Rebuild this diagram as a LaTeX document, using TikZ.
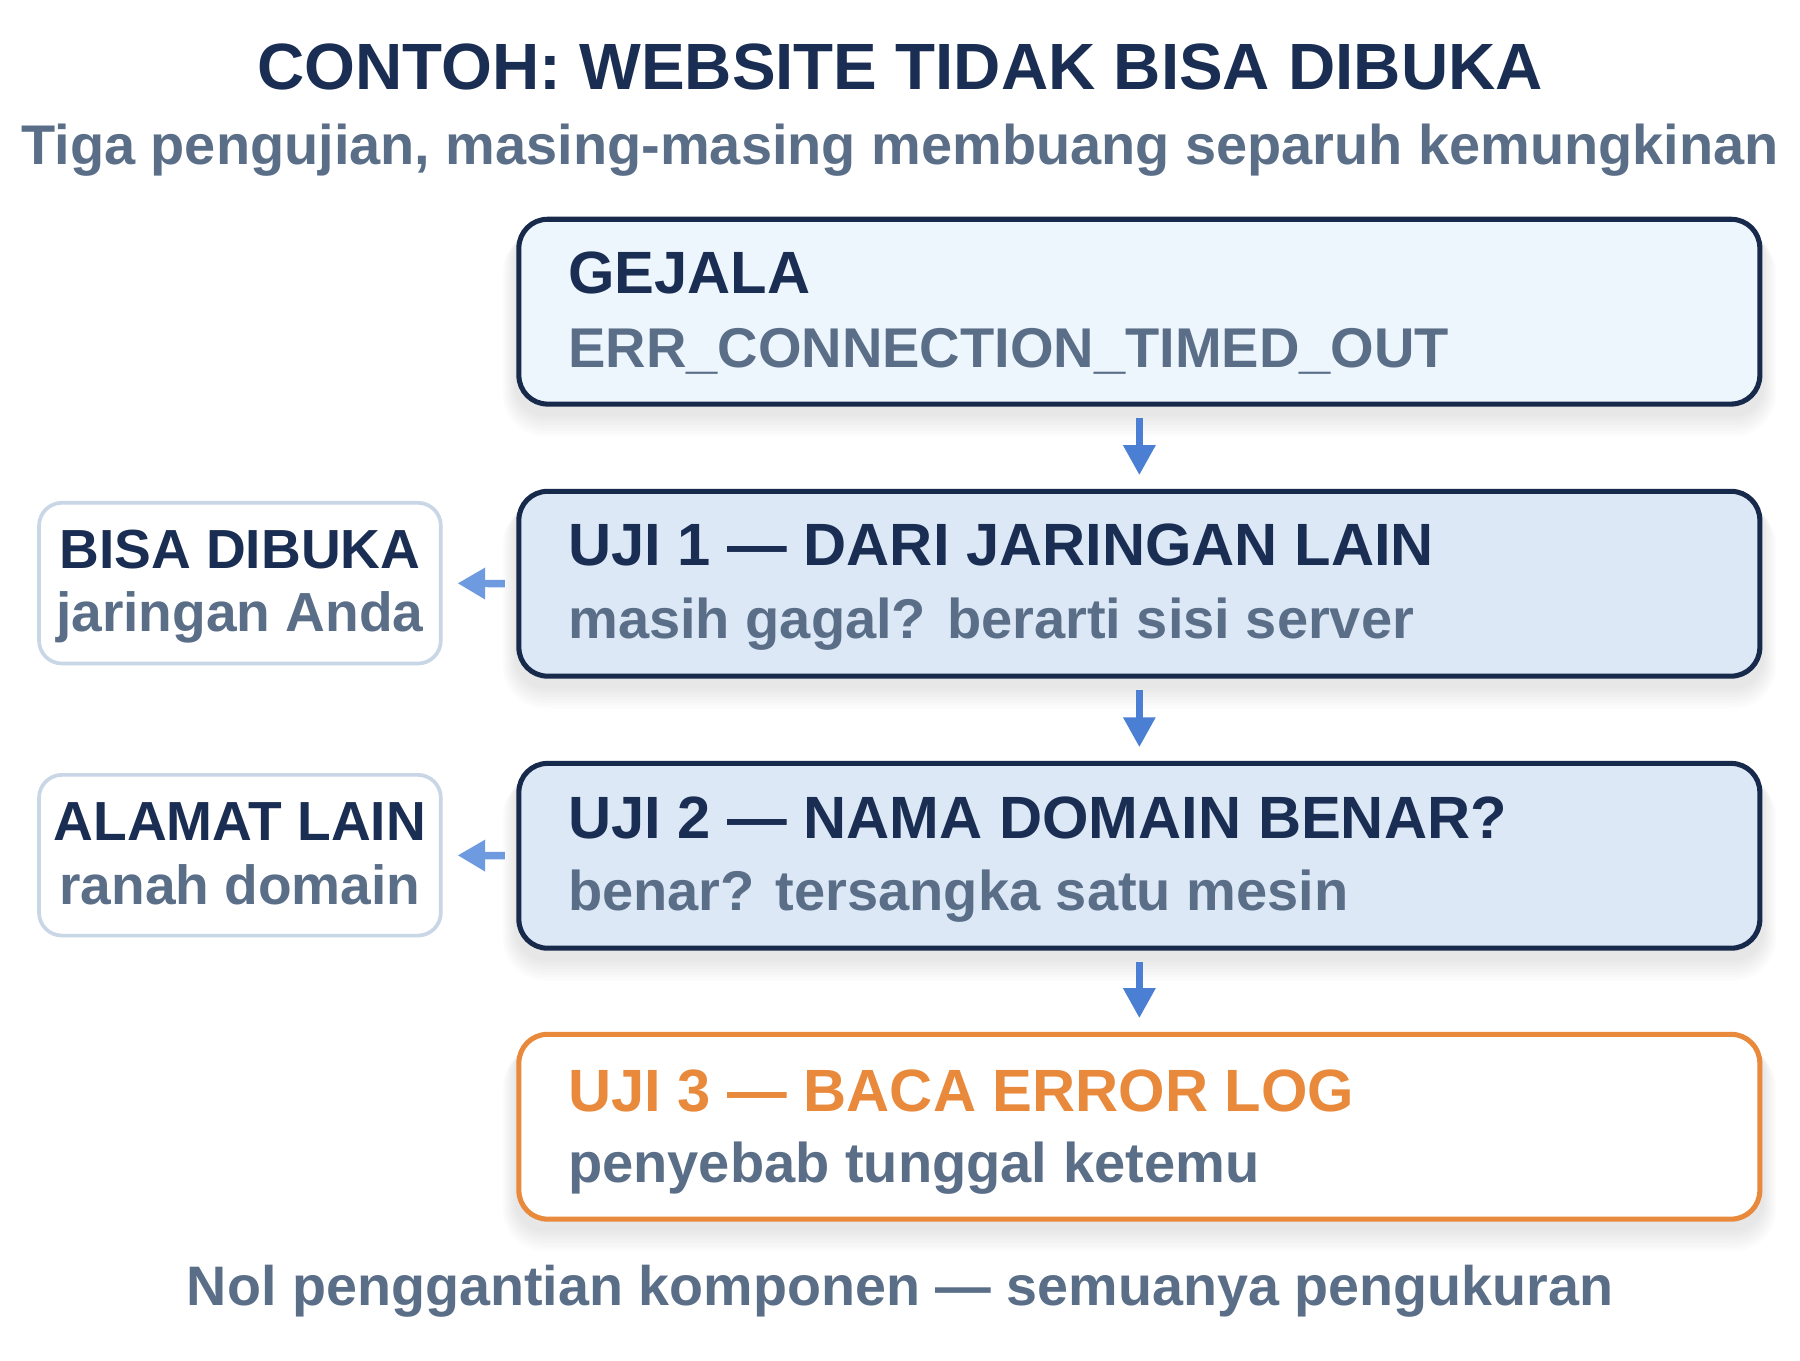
\documentclass[tikz,border=0pt]{standalone}
\usepackage{fontspec}
\setmainfont{Liberation Sans}
\usetikzlibrary{arrows.meta,calc,backgrounds}
\definecolor{navy}{HTML}{1A2D52}
\definecolor{grayblue}{HTML}{5A6E88}
\definecolor{boxline}{HTML}{182A4C}
\definecolor{fillA}{HTML}{EDF5FD}
\definecolor{fillB}{HTML}{DCE8F6}
\definecolor{arrowblue}{HTML}{4A7FD4}
\definecolor{arrowlight}{HTML}{6E9BE0}
\definecolor{sideline}{HTML}{C9D6E6}
\definecolor{orangeC}{HTML}{E8893B}
\tikzset{
  mainbox/.style={draw=boxline, line width=4.4pt, rounded corners=25pt,
    minimum width=1081pt, minimum height=161pt, inner sep=0pt},
  sidebox/.style={draw=sideline, line width=3.2pt, fill=white, rounded corners=20pt,
    minimum width=350pt, minimum height=140pt, inner sep=0pt},
  ttl/.style={font=\fontsize{52}{60}\selectfont\bfseries, text=navy, inner sep=0pt},
  sub/.style={font=\fontsize{48.8}{58}\selectfont\bfseries, text=grayblue, inner sep=0pt},
  sidet/.style={font=\fontsize{48}{58}\selectfont\bfseries, text=navy, inner sep=0pt},
  sidesub/.style={font=\fontsize{48}{58}\selectfont\bfseries, text=grayblue, inner sep=0pt},
  downarr/.style={draw=arrowblue, line width=5.5pt, -{Triangle[width=27pt,length=26pt]},
    shorten <=10pt, shorten >=12pt},
  leftarr/.style={draw=arrowlight, line width=6.5pt, -{Triangle[width=26pt,length=24pt]},
    shorten <=10pt, shorten >=13pt},
  softshadow/.style={fill=black, opacity=0.010},
}
\begin{document}
\begin{tikzpicture}[x=1pt,y=-1pt]
\useasboundingbox (0,0) rectangle (1568,1185);
% title
\node[font=\fontsize{57}{66}\selectfont\bfseries, text=navy, inner sep=0pt, anchor=base] (title) at (784,78) {CONTOH: WEBSITE TIDAK BISA DIBUKA};
\node[font=\fontsize{48.7}{58}\selectfont\bfseries, text=grayblue, inner sep=0pt, anchor=base] (subtitle) at (784,143) {Tiga pengujian, masing-masing membuang separuh kemungkinan};
% main boxes
\node[mainbox, fill=fillA] (g) at (992.5,271.5) {};
\node[mainbox, fill=fillB] (u1) at (992.5,508.5) {};
\node[mainbox, fill=fillB] (u2) at (992.5,745.5) {};
\node[mainbox, draw=orangeC, fill=white] (u3) at (992.5,981.5) {};
% soft shadows and background
\begin{scope}[on background layer]
  \fill[white] (0,0) rectangle (1568,1185);
  \foreach \b in {g,u1,u2,u3}{
    \foreach \i in {1,...,8}{
      \fill[softshadow, rounded corners=25pt+\i*1.5pt]
        ($(\b.north west)+(-\i*1.5,8+\i*0.5)$) rectangle ($(\b.south east)+(\i*1.5,6+\i*2.5)$);
    }
  }
\end{scope}
% main box texts
\node[ttl, anchor=base west] (gt) at ($(g.north west)+(45,67)$) {GEJALA};
\node[sub, anchor=base west] (gs) at ($(g.north west)+(45,131)$) {ERR\_CONNECTION\_TIMED\_OUT};
\node[ttl, anchor=base west] (u1t) at ($(u1.north west)+(45,67)$) {UJI 1 — DARI JARINGAN LAIN};
\node[sub, anchor=base west] (u1s) at ($(u1.north west)+(45,130)$) {masih gagal? berarti sisi server};
\node[ttl, anchor=base west] (u2t) at ($(u2.north west)+(45,68)$) {UJI 2 — NAMA DOMAIN BENAR?};
\node[sub, anchor=base west] (u2s) at ($(u2.north west)+(45,130)$) {benar? tersangka satu mesin};
\node[ttl, anchor=base west, text=orangeC] (u3t) at ($(u3.north west)+(45,69)$) {UJI 3 — BACA ERROR LOG};
\node[sub, anchor=base west] (u3s) at ($(u3.north west)+(45,131)$) {penyebab tunggal ketemu};
% side boxes
\node[sidebox] (s1) at (209,508) {};
\node[sidebox] (s2) at (209,745) {};
\node[sidet, anchor=base] (s1t) at (209,495) {BISA DIBUKA};
\node[sidesub, anchor=base] (s1s) at (209,550) {jaringan Anda};
\node[sidet, anchor=base] (s2t) at (209,732) {ALAMAT LAIN};
\node[sidesub, anchor=base] (s2s) at (209,788) {ranah domain};
% arrows
\draw[downarr] (g.south) -- (u1.north);
\draw[downarr] (u1.south) -- (u2.north);
\draw[downarr] (u2.south) -- (u3.north);
\draw[leftarr] (u1.west) -- (s1.east);
\draw[leftarr] (u2.west) -- (s2.east);
% footer
\node[font=\fontsize{48.5}{58}\selectfont\bfseries, text=grayblue, inner sep=0pt, anchor=base] (footer) at (784,1137) {Nol penggantian komponen — semuanya pengukuran};
\end{tikzpicture}
\end{document}
